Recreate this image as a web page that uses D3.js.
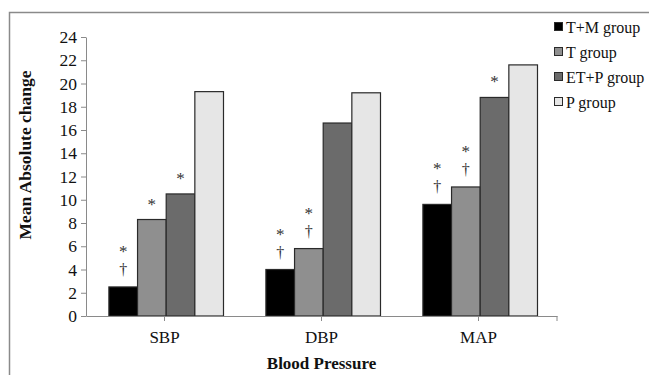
<!DOCTYPE html>
<html>
<head>
<meta charset="utf-8">
<script src="https://cdn.jsdelivr.net/npm/d3@7"></script>
<style>
  body { margin: 0; background: #fff; }
  svg text { font-family: "Liberation Serif", "Times New Roman", serif; }
</style>
</head>
<body>
<div id="chart"></div>
<script>
const categories = ["SBP", "DBP", "MAP"];
const groups = ["T+M group", "T group", "ET+P group", "P group"];
const colors = ["#000000", "#8f8f8f", "#6b6b6b", "#e6e6e6"];
// values per group, in category order
const tmValues = [2.5, 4.0, 9.6];
const tValues = [8.3, 5.8, 11.1];
const etpValues = [10.5, 16.6, 18.8];
const pValues = [19.3, 19.2, 21.6];
// significance marks per group (top to bottom)
const tmMarks = [["*", "†"], ["*", "†"], ["*", "†"]];
const tMarks = [["*"], ["*", "†"], ["*", "†"]];
const etpMarks = [["*"], [], ["*"]];
const pMarks = [[], [], []];
const yTicks = [0, 2, 4, 6, 8, 10, 12, 14, 16, 18, 20, 22, 24];

const series = [tmValues, tValues, etpValues, pValues];
const marks = [tmMarks, tMarks, etpMarks, pMarks];
const FONT = "'Liberation Serif', 'Times New Roman', serif";

const W = 649, H = 375;
const margin = { top: 37, right: 92, bottom: 59, left: 86 };
const width = W - margin.left - margin.right,
    height = H - margin.top - margin.bottom;

const svg = d3.select("#chart").append("svg")
    .attr("width", W)
    .attr("height", H)
    .style("display", "block");

// outer frame (only top and left edges visible)
svg.append("path")
    .attr("d", `M9.5,${H} V12.5 H${W}`)
    .attr("fill", "none")
    .attr("stroke", "#8a8a8a")
    .attr("stroke-width", 1.5);

const g = svg.append("g")
    .attr("transform", `translate(${margin.left},${margin.top})`);

const x = d3.scaleBand()
    .domain(categories)
    .range([0, width]);

const x1 = d3.scaleBand()
    .domain(groups)
    .range([0, x.bandwidth()])
    .paddingInner(0)
    .paddingOuter(0.74)
    .align(0.54);

const y = d3.scaleLinear()
    .domain([0, 24])
    .range([height, 0]);

// bars
const data = [];
series.forEach((vals, gi) => {
    vals.forEach((v, ci) => {
        data.push({ cat: categories[ci], grp: groups[gi], gi, value: v, marks: marks[gi][ci] });
    });
});

g.selectAll(".bar")
    .data(data)
    .join("rect")
    .attr("class", "bar")
    .attr("x", d => x(d.cat) + x1(d.grp))
    .attr("width", x1.bandwidth())
    .attr("y", d => y(d.value))
    .attr("height", d => y(0) - y(d.value))
    .attr("fill", d => colors[d.gi])
    .attr("stroke", "#2a2a2a")
    .attr("stroke-width", 1.2);

// significance marks
data.forEach(d => {
    const n = d.marks.length;
    d.marks.forEach((m, i) => {
        const level = n - 1 - i; // 0 = closest to bar
        g.append("text")
            .attr("x", x(d.cat) + x1(d.grp) + x1.bandwidth() / 2)
            .attr("y", y(d.value) - (m === "*" ? 10 : 12) - level * 20)
            .attr("text-anchor", "middle")
            .attr("font-family", FONT)
            .attr("font-size", m === "*" ? 17 : 16)
            .attr("fill", "#333333")
            .text(m);
    });
});

// y axis
const yAxis = g.append("g")
    .call(d3.axisLeft(y).tickValues(yTicks).tickSize(5).tickSizeOuter(0));
yAxis.select(".domain").attr("stroke", "#8a8a8a");
yAxis.selectAll(".tick line").attr("stroke", "#8a8a8a");
yAxis.selectAll(".tick text")
    .attr("font-family", FONT)
    .attr("font-size", 17.5)
    .attr("fill", "#111")
    .attr("x", -9);

// x axis
const xAxis = g.append("g")
    .attr("transform", `translate(0,${height})`)
    .call(d3.axisBottom(x).tickSize(0).tickSizeOuter(0));
xAxis.select(".domain").attr("stroke", "#8a8a8a");
xAxis.selectAll(".tick text")
    .attr("font-family", FONT)
    .attr("font-size", 17)
    .attr("fill", "#111")
    .attr("dy", 0)
    .attr("y", 27);
// tick marks at category centres and at the right end
g.selectAll(".xtick")
    .data(categories)
    .join("line")
    .attr("class", "xtick")
    .attr("x1", d => x(d) + x.bandwidth() / 2)
    .attr("x2", d => x(d) + x.bandwidth() / 2)
    .attr("y1", height)
    .attr("y2", height + 5)
    .attr("stroke", "#8a8a8a");
g.append("line")
    .attr("x1", width).attr("x2", width)
    .attr("y1", height).attr("y2", height + 5)
    .attr("stroke", "#8a8a8a");

// axis titles
svg.append("text")
    .attr("x", margin.left + width / 2)
    .attr("y", 369)
    .attr("text-anchor", "middle")
    .attr("font-family", FONT)
    .attr("font-weight", "bold")
    .attr("font-size", 17)
    .attr("fill", "#111")
    .text("Blood Pressure");

svg.append("text")
    .attr("transform", "translate(31,155) rotate(-90)")
    .attr("text-anchor", "middle")
    .attr("font-family", FONT)
    .attr("font-weight", "bold")
    .attr("font-size", 17.5)
    .attr("fill", "#111")
    .text("Mean Absolute change");

// legend
const legend = svg.append("g")
    .attr("transform", "translate(554,27)");
const li = legend.selectAll("g")
    .data(groups)
    .join("g")
    .attr("transform", (d, i) => `translate(0,${i * 25})`);
li.append("rect")
    .attr("x", 0.5)
    .attr("y", -4.5)
    .attr("width", 8)
    .attr("height", 8)
    .attr("fill", (d, i) => colors[i])
    .attr("stroke", "#2a2a2a");
li.append("text")
    .attr("x", 12)
    .attr("y", 5.5)
    .attr("font-family", FONT)
    .attr("font-size", 16)
    .attr("fill", "#111")
    .text(d => d);
</script>
</body>
</html>
